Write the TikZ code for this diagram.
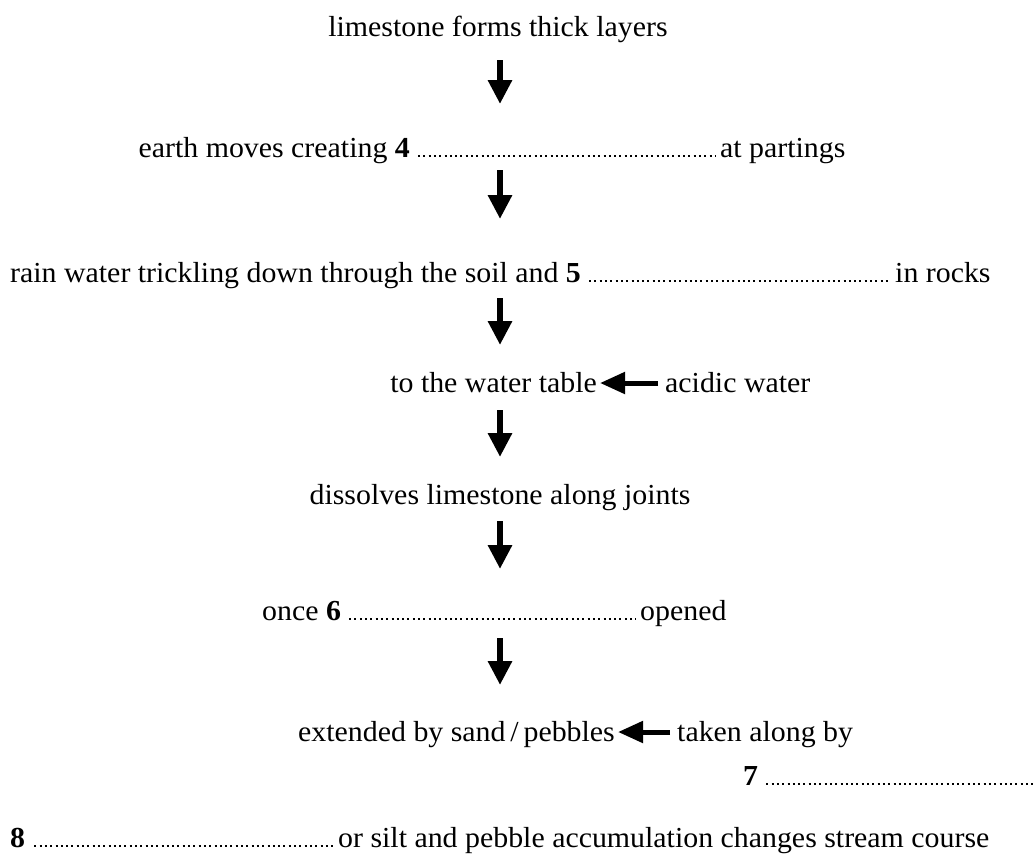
\documentclass[tikz,border=0pt]{standalone}
\usepackage{fontspec}
\setmainfont[FakeStretch=1.03]{Liberation Serif}
\usetikzlibrary{arrows.meta}
\tikzset{
  txt/.style={inner sep=0pt, anchor=base west, font=\fontsize{29}{33}\selectfont},
  etxt/.style={inner sep=0pt, anchor=base east, font=\fontsize{29}{33}\selectfont},
  ctxt/.style={inner sep=0pt, anchor=base, font=\fontsize{29}{33}\selectfont},
  downarr/.style={line width=6pt, -{Triangle[width=23pt,length=24pt]}},
  leftarr/.style={line width=5pt, -{Triangle[width=21pt,length=25pt]}},
  dotline/.style={line width=2pt, dash pattern=on 2pt off 3.3pt}
}
\begin{document}
\begin{tikzpicture}[x=1pt,y=-1pt]
\useasboundingbox (0,0) rectangle (1033,863);
% text lines
\node[ctxt] (l1) at (498,36) {limestone forms thick layers};
\node[etxt] (l3a) at (410,157) {earth moves creating \textbf{4}};
\node[txt] (l3b) at (720,157) {at partings};
\node[txt] (l5a) at (10,282) {rain water trickling down through the soil and \textbf{5}};
\node[txt] (l5b) at (895,282) {in rocks};
\node[etxt] (l7a) at (597,392) {to the water table};
\node[txt] (l7b) at (665,392) {acidic water};
\node[ctxt] (l9) at (500,504) {dissolves limestone along joints};
\node[txt] (l11a) at (262,620) {once \textbf{6}};
\node[txt] (l11b) at (640,620) {opened};
\node[etxt] (l13a) at (615,741) {extended by sand\,/\,pebbles};
\node[txt] (l13b) at (677,741) {taken along by};
\node[txt] (l14) at (743,785) {\textbf{7}};
\coordinate (d14e) at (1033,783.5);
\node[txt] (l15a) at (10,847) {\textbf{8}};
\node[txt] (l15b) at (338,847) {or silt and pebble accumulation changes stream course};
% dotted lines
\draw[dotline] ([xshift=8pt,yshift=1.5pt]l3a.base east) -- ([xshift=-4pt,yshift=1.5pt]l3b.base west);
\draw[dotline] ([xshift=8pt,yshift=1.5pt]l5a.base east) -- ([xshift=-5pt,yshift=1.5pt]l5b.base west);
\draw[dotline] ([xshift=8pt,yshift=1.5pt]l11a.base east) -- ([xshift=-4pt,yshift=1.5pt]l11b.base west);
\draw[dotline] ([xshift=8pt,yshift=1.5pt]l14.base east) -- (d14e);
\draw[dotline] ([xshift=9pt,yshift=1.5pt]l15a.base east) -- ([xshift=-4pt,yshift=1.5pt]l15b.base west);
% down arrows
\coordinate (a1s) at (500,60);  \coordinate (a1e) at (500,104);
\coordinate (a2s) at (500,170); \coordinate (a2e) at (500,219);
\coordinate (a3s) at (500,298); \coordinate (a3e) at (500,345);
\coordinate (a4s) at (500,410); \coordinate (a4e) at (500,457);
\coordinate (a5s) at (500,521); \coordinate (a5e) at (500,569);
\coordinate (a6s) at (500,638); \coordinate (a6e) at (500,685);
\draw[downarr] (a1s) -- (a1e);
\draw[downarr] (a2s) -- (a2e);
\draw[downarr] (a3s) -- (a3e);
\draw[downarr] (a4s) -- (a4e);
\draw[downarr] (a5s) -- (a5e);
\draw[downarr] (a6s) -- (a6e);
% left arrows
\draw[leftarr] ([xshift=-7pt,yshift=9pt]l7b.base west) -- ([xshift=3pt,yshift=9pt]l7a.base east);
\draw[leftarr] ([xshift=-7pt,yshift=9pt]l13b.base west) -- ([xshift=3pt,yshift=9pt]l13a.base east);
\end{tikzpicture}
\end{document}
